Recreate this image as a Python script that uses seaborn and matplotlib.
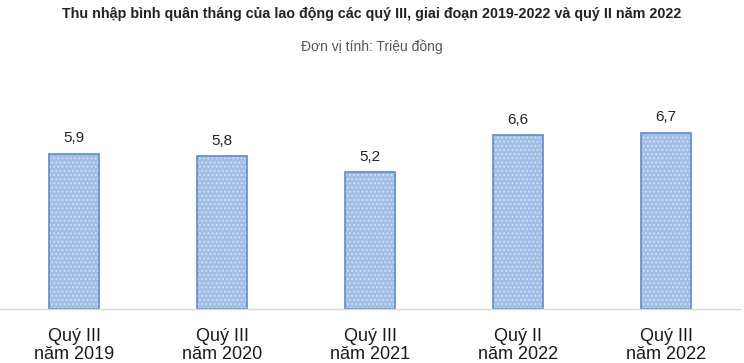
import matplotlib
matplotlib.use("Agg")
import matplotlib.pyplot as plt
import matplotlib.colors as mcolors
import seaborn as sns
import pandas as pd

categories = ["Quý III\nnăm 2019", "Quý III\nnăm 2020", "Quý III\nnăm 2021", "Quý II\nnăm 2022", "Quý III\nnăm 2022"]
values = [5.9, 5.8, 5.2, 6.6, 6.7]
labels = ["5,9", "5,8", "5,2", "6,6", "6,7"]

sns.set_theme(style="white")
plt.rcParams['font.family'] = ['Liberation Sans', 'DejaVu Sans']
plt.rcParams['hatch.linewidth'] = 0.8

df = pd.DataFrame({"cat": categories, "val": values})

fig = plt.figure(figsize=(7.44, 3.63), dpi=100)
ax = fig.add_axes([0.0, 0.149, 740/744, 0.507])
sns.barplot(data=df, x="cat", y="val", ax=ax, color="#a3bde5", width=0.34,
            edgecolor="#5b8bd0", linewidth=1.2, saturation=1)
for p in ax.patches:
    p.set_hatch('....')
    p._hatch_color = mcolors.to_rgba('#d3e0f3')

ax.set_xlim(-0.5, 4.5)
ax.set_ylim(0, 7)
ax.set_xlabel("")
ax.set_ylabel("")
ax.set_yticks([])
for s in ["top", "right", "left"]:
    ax.spines[s].set_visible(False)
ax.spines["bottom"].set_color("#d9d9d9")
ax.spines["bottom"].set_linewidth(1)
ax.tick_params(axis="x", length=0, pad=14, labelsize=13, colors="#1a1a1a")
for t in ax.get_xticklabels():
    t.set_linespacing(1.05)

for i, (v, lab) in enumerate(zip(values, labels)):
    ax.annotate(lab, (i, v), xytext=(0, 6), textcoords="offset points",
                ha="center", va="bottom", fontsize=11, color="#222222")

fig.text(0.5, 0.962, "Thu nhập bình quân tháng của lao động các quý III, giai đoạn 2019-2022 và quý II năm 2022",
         ha="center", va="center", fontsize=10.3, fontweight="bold", color="#222222")
fig.text(0.5, 0.873, "Đơn vị tính: Triệu đồng", ha="center", va="center", fontsize=10,
         color="#555555")

fig.savefig("out.png", dpi=100, facecolor="white")
